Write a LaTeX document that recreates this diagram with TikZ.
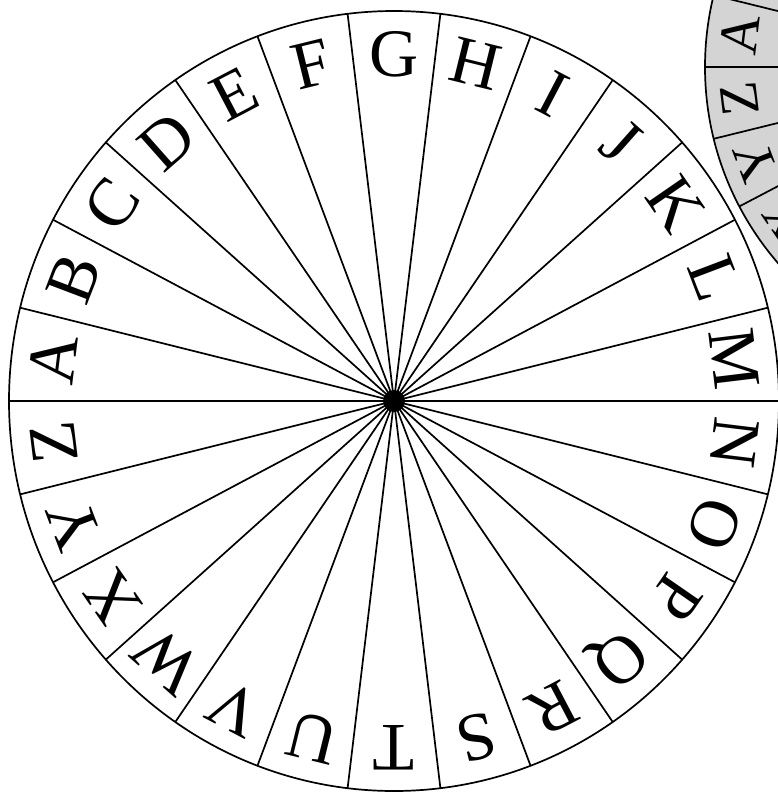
\documentclass[tikz,border=0pt]{standalone}
\usepackage{fontspec}
\setmainfont{Liberation Serif}
\definecolor{wheelgray}{RGB}{212,212,212}
\begin{document}
\begin{tikzpicture}[x=1pt,y=-1pt,
  spoke/.style={line width=1.7pt},
  rim/.style={line width=1.7pt},
  biglet/.style={font=\fontsize{68}{68}\selectfont, inner sep=0pt, text height=44.5pt, text depth=0pt, anchor=center},
  smalllet/.style={font=\fontsize{55}{55}\selectfont, inner sep=0pt, text height=36pt, text depth=0pt, anchor=center}]
\useasboundingbox (0,0) rectangle (778,793);
\clip (0,0) rectangle (778,793);
% second (gray) wheel, partly visible at top right
\coordinate (g) at (1005,67);
\fill[wheelgray] (g) circle [radius=300pt];
\foreach \k in {0,...,25} {
  \pgfmathsetmacro\ang{\k*360/26}
  \coordinate (gr\k) at ({1005+300*cos(\ang)},{67-300*sin(\ang)});
  \draw[spoke] (g) -- (gr\k);
}
\draw[rim] (g) circle [radius=300pt];
\foreach \L/\i in {A/0,X/23,Y/24,Z/25} {
  \pgfmathsetmacro\ang{180-180/26-\i*360/26}
  \node[smalllet, rotate=\ang-90] (small\L) at ({1005+267*cos(\ang)},{67-267*sin(\ang)}) {\L};
}
% main wheel
\coordinate (c) at (394,401);
\foreach \k in {0,...,25} {
  \pgfmathsetmacro\ang{\k*360/26}
  \coordinate (r\k) at ({394+385*cos(\ang)},{401-390*sin(\ang)});
  \draw[spoke] (c) -- (r\k);
}
\draw[rim] (c) ellipse [x radius=385pt, y radius=390pt];
\fill (c) circle [radius=11pt];
\foreach \L [count=\i from 0] in {A,B,C,D,E,F,G,H,I,J,K,L,M,N,O,P,Q,R,S,T,U,V,W,X,Y,Z} {
  \pgfmathsetmacro\ang{180-180/26-\i*360/26}
  \node[biglet, rotate=\ang-90] (big\L) at ({394+0.89*385*cos(\ang)},{401-0.89*390*sin(\ang)}) {\L};
}
\end{tikzpicture}
\end{document}
